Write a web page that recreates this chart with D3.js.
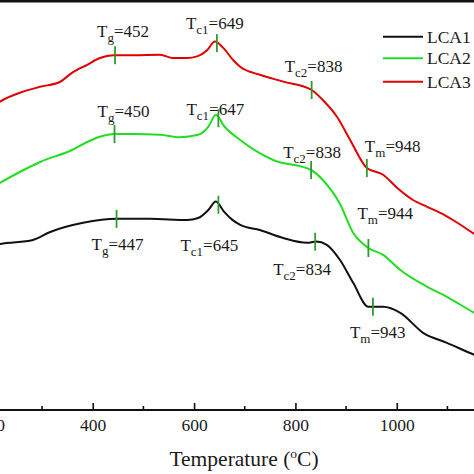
<!DOCTYPE html>
<html>
<head>
<meta charset="utf-8">
<script src="https://cdn.jsdelivr.net/npm/d3@7/dist/d3.min.js"></script>
<style>
  html, body { margin: 0; padding: 0; background: #fff; overflow: hidden; }
  svg { display: block; }
  svg text { font-family: "Liberation Serif", "Times New Roman", Times, "DejaVu Serif", serif !important; fill: #1a1a1a; }
</style>
</head>
<body>
<svg id="chart" width="474" height="474" font-family="Liberation Serif, Times New Roman, serif"></svg>
<script>
// ---------------- DATA ----------------
const seriesNames = ["LCA1", "LCA2", "LCA3"];

// Temperature (°C) sample points and DSC signal (arbitrary units)
const lca3Temp = [210, 217, 256, 296, 335, 359, 389, 414, 440, 480, 533, 558, 586, 606, 626, 641, 657, 677, 691, 730, 776, 832, 854, 882, 908, 941, 973, 1001, 1032, 1060, 1086, 1111, 1153, 1165];
const lca3Sig  = [76.5, 77.1, 79.3, 80.8, 82.0, 84.3, 86.3, 88.0, 88.7, 88.7, 88.8, 88.0, 88.0, 88.4, 90.0, 92.1, 90.6, 87.5, 85.8, 83.8, 82.1, 80.0, 77.5, 73.3, 67.5, 60.5, 58.8, 55.5, 52.5, 50.8, 49.3, 47.5, 44.0, 43.0];

const lca2Temp = [210, 217, 256, 296, 359, 389, 414, 442, 480, 533, 572, 608, 628, 643, 659, 691, 756, 831, 854, 888, 914, 944, 973, 1007, 1060, 1099, 1153, 1165];
const lca2Sig  = [56.3, 56.8, 59.5, 62.0, 65.0, 67.0, 68.3, 69.0, 69.0, 68.8, 68.2, 68.8, 70.8, 73.8, 71.0, 67.5, 62.5, 60.0, 57.5, 51.5, 44.3, 40.5, 38.8, 35.0, 30.8, 28.3, 24.3, 23.5];

const lca1Temp = [210, 217, 282, 316, 381, 448, 513, 586, 608, 628, 643, 659, 675, 691, 730, 776, 823, 841, 862, 888, 914, 944, 973, 1007, 1052, 1099, 1153, 1165];
const lca1Sig  = [41.3, 41.5, 42.5, 44.5, 46.8, 47.8, 47.8, 47.5, 48.0, 50.0, 52.1, 49.6, 47.6, 46.3, 45.0, 43.0, 41.8, 42.1, 41.3, 37.5, 31.8, 25.8, 25.8, 24.3, 19.3, 16.8, 13.8, 13.2];

// Characteristic temperatures: marker positions and label values
const markerNames = ["g", "c1", "c2", "m"];
const lca1MarkTemp = [447, 648, 839, 953];
const lca2MarkTemp = [443, 648, 831, 944];
const lca3MarkTemp = [444, 645, 832, 941];
const lca1Labels = [447, 645, 834, 943];
const lca2Labels = [450, 647, 838, 944];
const lca3Labels = [452, 649, 838, 948];

const xMajorTicks = [200, 400, 600, 800, 1000];
const xMinorTicks = [300, 500, 700, 900, 1100];
const xTitle = "Temperature (";

// ---------------- LAYOUT ----------------
const FONT = "'Liberation Serif', 'Times New Roman', Times, serif";
const colors = { LCA1: "#111111", LCA2: "#22dd22", LCA3: "#e00000" };
const markerColor = "#2f9a2f";

// label offsets relative to marker point (dx to text start, dy to baseline)
const labelOffsets = {
  LCA3: [[-18, -18], [-31, -14], [-27, -18], [-2, -16]],
  LCA2: [[-17, -17], [-32, -3], [-28, -12], [-11, -29]],
  LCA1: [[-25, 31], [-38, 46], [-42, 33], [-23, 31]]
};

const svg = d3.select("#chart");
const x = d3.scaleLinear().domain([200, 1200]).range([-8.6, 498.1]);
const y = d3.scaleLinear().domain([0, 100]).range([410, 10]);
const axisY = 409.5;

// top frame
svg.append("line").attr("x1", 0).attr("x2", 474).attr("y1", 1.2).attr("y2", 1.2)
  .attr("stroke", "#111").attr("stroke-width", 2.6);

// x axis (ticks pointing inward)
const axisG = svg.append("g").attr("transform", `translate(0,${axisY})`);
axisG.call(d3.axisBottom(x).tickValues(xMajorTicks).tickSizeInner(-6.5).tickSizeOuter(0).tickPadding(0).tickFormat(d3.format("d")));
axisG.attr("font-family", FONT);
axisG.select(".domain").attr("stroke", "#111").attr("stroke-width", 2);
axisG.selectAll(".tick line").attr("stroke", "#111").attr("stroke-width", 1.6);
axisG.selectAll(".tick text").attr("y", 21.5).attr("dy", null)
  .style("font-family", FONT).style("font-size", "17.5px").attr("fill", "#1a1a1a");
axisG.selectAll(".minor").data(xMinorTicks).enter().append("line")
  .attr("class", "minor")
  .attr("x1", d => x(d)).attr("x2", d => x(d)).attr("y1", 0).attr("y2", -3.5)
  .attr("stroke", "#111").attr("stroke-width", 1.6);

// axis title
const title = svg.append("text").attr("x", 244).attr("y", 466).attr("text-anchor", "middle")
  .style("font-family", FONT).style("font-size", "21.5px");
title.append("tspan").text(xTitle);
title.append("tspan").attr("dy", -8).style("font-size", "13.5px").text("o");
title.append("tspan").attr("dy", 8).text("C)");

// curves
const seriesData = {
  LCA1: { t: lca1Temp, v: lca1Sig, mk: lca1MarkTemp, lb: lca1Labels },
  LCA2: { t: lca2Temp, v: lca2Sig, mk: lca2MarkTemp, lb: lca2Labels },
  LCA3: { t: lca3Temp, v: lca3Sig, mk: lca3MarkTemp, lb: lca3Labels }
};

const line = d3.line().x(d => x(d[0])).y(d => y(d[1])).curve(d3.curveMonotoneX);

seriesNames.forEach(name => {
  const s = seriesData[name];
  const pts = s.t.map((t, i) => [t, s.v[i]]);
  svg.append("path").datum(pts).attr("d", line)
    .attr("fill", "none").attr("stroke", colors[name]).attr("stroke-width", 2)
    .attr("stroke-linejoin", "round");
});

// markers and labels
function valueAt(s, t) {
  const i = d3.bisectLeft(s.t, t);
  if (i <= 0) return s.v[0];
  const t0 = s.t[i - 1], t1 = s.t[i];
  const f = (t - t0) / (t1 - t0);
  return s.v[i - 1] + f * (s.v[i] - s.v[i - 1]);
}

seriesNames.forEach(name => {
  const s = seriesData[name];
  s.mk.forEach((t, i) => {
    const px = x(t), py = y(valueAt(s, t));
    svg.append("line").attr("x1", px).attr("x2", px).attr("y1", py - 9).attr("y2", py + 9)
      .attr("stroke", markerColor).attr("stroke-width", 1.8);
    const off = labelOffsets[name][i];
    const txt = svg.append("text").attr("x", px + off[0]).attr("y", py + off[1])
      .style("font-family", FONT).style("font-size", "17px");
    txt.append("tspan").text("T");
    txt.append("tspan").attr("dy", 5).style("font-size", "13px").text(markerNames[i]);
    txt.append("tspan").attr("dy", -5).text("=" + s.lb[i]);
  });
});

// legend
const legY = [36.7, 58.3, 81.7];
seriesNames.forEach((name, i) => {
  svg.append("line").attr("x1", 383).attr("x2", 423).attr("y1", legY[i]).attr("y2", legY[i])
    .attr("stroke", colors[name]).attr("stroke-width", 2);
  svg.append("text").attr("x", 427).attr("y", legY[i] + 6)
    .style("font-family", FONT).style("font-size", "17.5px").text(name);
});
</script>
</body>
</html>
